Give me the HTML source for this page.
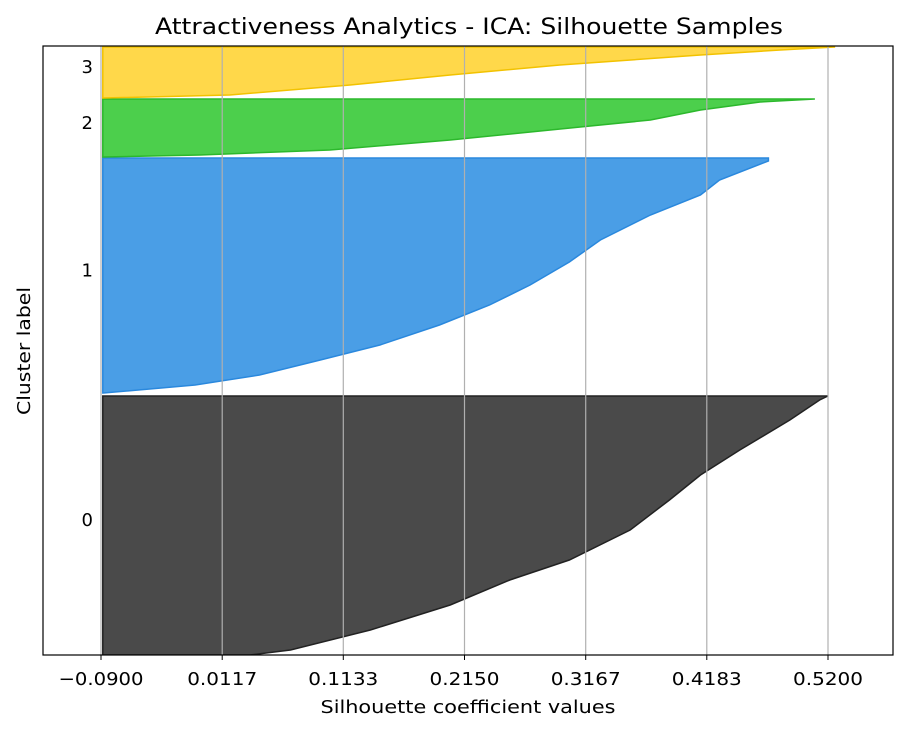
<!DOCTYPE html>
<html><head><meta charset="utf-8"><style>
body{margin:0;background:#fff;font-family:"Liberation Sans","DejaVu Sans",sans-serif;}
svg text{font-family:"DejaVu Sans","Liberation Sans",sans-serif;}
</style></head><body>
<svg id="chart" width="912" height="733" xmlns="http://www.w3.org/2000/svg">
<rect width="912" height="733" fill="#fff"/>
<text x="469" y="34" text-anchor="middle" font-size="22" textLength="628" lengthAdjust="spacingAndGlyphs" fill="#000">Attractiveness Analytics - ICA: Silhouette Samples</text>
<g id="fills"></g><g id="grid"></g>
<rect x="43" y="46" width="850" height="609" fill="none" stroke="#000" stroke-width="1.2"/>
<g id="xticks"></g><g id="ylabels"></g>
<text x="468" y="713" text-anchor="middle" font-size="18" textLength="295" lengthAdjust="spacingAndGlyphs">Silhouette coefficient values</text>
<text transform="translate(30,351) rotate(-90)" text-anchor="middle" font-size="18" textLength="128" lengthAdjust="spacingAndGlyphs">Cluster label</text>
</svg>
<script>
const clusterLabels = ["0","1","2","3"];
const clusterRanges = [[0,260],[262,497],[498,556],[557,625]];
const c0 = [0.035,0.069,0.136,0.203,0.253,0.303,0.354,0.387,0.413,0.446,0.488,0.513,0.52];
const c0y = [0,5,25,50,75,95,125,155,180,205,235,255,259];
const c1 = [-0.088,-0.011,0.043,0.094,0.144,0.194,0.236,0.27,0.303,0.329,0.371,0.413,0.429,0.47,0.47];
const c1y = [262,270,280,295,310,330,350,370,393,415,440,460,475,494,497];
const c2 = [-0.088,-0.007,0.102,0.203,0.287,0.371,0.413,0.463,0.509];
const c2y = [498,500,505,515,525,535,545,553,556];
const c3 = [-0.088,0.018,0.119,0.203,0.295,0.413,0.48,0.526];
const c3y = [557,560,570,580,590,600,605,608];
const baseline = -0.0885;
const xTicks = [-0.09,0.0117,0.1133,0.215,0.3167,0.4183,0.52];
const xTickLabels = ["\u22120.0900","0.0117","0.1133","0.2150","0.3167","0.4183","0.5200"];
const colors = [["#4a4a4a","#222"],["#4a9ee6","#2a88dd"],["#4ccf4c","#2cb82c"],["#ffd84a","#f2c200"]];
const X = v => 101 + (v + 0.09) * (727 / 0.61);
const Y = d => 655 - d;
const ns = "http://www.w3.org/2000/svg";
const mk = (t) => document.createElementNS(ns, t);
const fills = document.getElementById("fills");
const defs = mk("defs");
const cp = mk("clipPath"); cp.setAttribute("id","clip");
const cr = mk("rect"); cr.setAttribute("x",43); cr.setAttribute("y",46); cr.setAttribute("width",850); cr.setAttribute("height",609);
cp.appendChild(cr); defs.appendChild(cp); fills.appendChild(defs);
fills.setAttribute("clip-path","url(#clip)");
const series = [[c0,c0y],[c1,c1y],[c2,c2y],[c3,c3y]];
series.forEach((s, i) => {
  const [vals, ys] = s;
  let d = "M" + X(baseline) + "," + Y(ys[0]);
  vals.forEach((v, j) => { d += " L" + X(v) + "," + Y(ys[j]); });
  d += " L" + X(baseline) + "," + Y(ys[ys.length - 1]) + " Z";
  const p = mk("path");
  p.setAttribute("d", d);
  p.setAttribute("fill", colors[i][0]);
  p.setAttribute("stroke", colors[i][1]);
  p.setAttribute("stroke-width", "1.5");
  
  
  fills.appendChild(p);
  const t = mk("text");
  const r = clusterRanges[i];
  t.setAttribute("x", 93); t.setAttribute("y", Y((r[0] + Math.min(r[1], 609)) / 2) + 1);
  t.setAttribute("text-anchor", "end"); t.setAttribute("font-size", "18");
  t.textContent = clusterLabels[i];
  
  
  document.getElementById("ylabels").appendChild(t);
});
xTicks.forEach((v, i) => {
  const l = mk("line");
  l.setAttribute("x1", X(v)); l.setAttribute("x2", X(v)); l.setAttribute("y1", 46); l.setAttribute("y2", 655);
  l.setAttribute("stroke", "#b0b0b0"); l.setAttribute("stroke-width", "1.2");
  
  
  document.getElementById("grid").appendChild(l);
  const tk = mk("line");
  tk.setAttribute("x1", X(v)); tk.setAttribute("x2", X(v)); tk.setAttribute("y1", 655); tk.setAttribute("y2", 660);
  tk.setAttribute("stroke", "#000");
  
  
  document.getElementById("xticks").appendChild(tk);
  const t = mk("text");
  t.setAttribute("x", X(v)); t.setAttribute("y", 685); t.setAttribute("text-anchor", "middle"); t.setAttribute("font-size", "18");
  t.setAttribute("textLength", i === 0 ? 85 : 70);
  t.setAttribute("lengthAdjust", "spacingAndGlyphs");
  t.textContent = xTickLabels[i];
  
  
  document.getElementById("xticks").appendChild(t);
});
</script>
</body></html>
